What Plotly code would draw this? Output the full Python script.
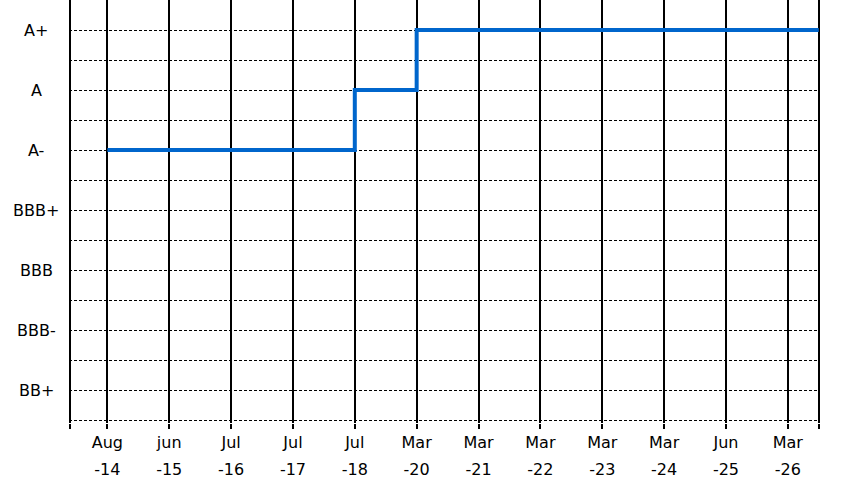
import plotly.graph_objects as go

# rating scale, bottom to top
ratings = ["BB+", "BBB-", "BBB", "BBB+", "A-", "A", "A+"]

# x categories (month / year)
months = ["Aug", "jun", "Jul", "Jul", "Jul", "Mar", "Mar", "Mar", "Mar", "Mar", "Jun", "Mar"]
years = ["-14", "-15", "-16", "-17", "-18", "-20", "-21", "-22", "-23", "-24", "-25", "-26"]

# rating history
change_at = [0, 4, 5]          # index into the categories
change_rating = ["A-", "A", "A+"]

FONT = "DejaVu Sans"
x_lo, x_hi = -0.6, len(months) - 0.5   # frame lines
pad = 0.02

xs = change_at + [x_hi]
ys = [ratings.index(r) + 1 for r in change_rating]
ys = ys + [ys[-1]]

pos = list(range(len(months)))

fig = go.Figure()
fig.add_trace(go.Scatter(x=xs, y=ys, mode="lines", line_shape="hv",
                         line=dict(color="#0066CC", width=4), hoverinfo="skip"))
fig.add_trace(go.Scatter(x=pos, y=[None] * len(pos), xaxis="x2", mode="markers",
                         marker=dict(opacity=0), hoverinfo="skip"))

# vertical grid incl. the two frame lines, as ticks
grid_x = [x_lo] + pos + [x_hi]

fig.update_layout(
    width=851, height=487,
    margin=dict(l=69, r=31, t=0, b=64),
    paper_bgcolor="white", plot_bgcolor="white",
    showlegend=False,
    font=dict(family=FONT, size=16, color="black"),
    xaxis=dict(range=[x_lo - pad, x_hi + pad], tickvals=grid_x,
               ticktext=[""] + months + [""],
               showgrid=True, gridcolor="black", gridwidth=1.5,
               ticks="outside", ticklen=5, tickwidth=1.5, tickcolor="black",
               zeroline=False, showline=False, tickangle=0),
    xaxis2=dict(range=[x_lo - pad, x_hi + pad], overlaying="x", side="bottom", anchor="y",
                tickvals=pos, ticktext=years, showgrid=False, ticks="",
                zeroline=False, showline=False, ticklabelstandoff=35, tickangle=0),
    yaxis=dict(range=[0.45, 7.5],
               tickvals=[v / 2 for v in range(1, 15)],
               showticklabels=False, showgrid=True, gridcolor="black",
               gridwidth=1, griddash="3px,2px", zeroline=False, showline=False,
               ticks=""),
)

for i, r in enumerate(ratings):
    fig.add_annotation(x=-33 / 751, xref="paper", y=i + 1, yref="y", text=r,
                       showarrow=False, xanchor="center", yanchor="middle",
                       font=dict(family=FONT, size=16, color="black"))

fig.write_html("out.html", config={"displayModeBar": False},
               post_script="document.body.style.margin='0';")
